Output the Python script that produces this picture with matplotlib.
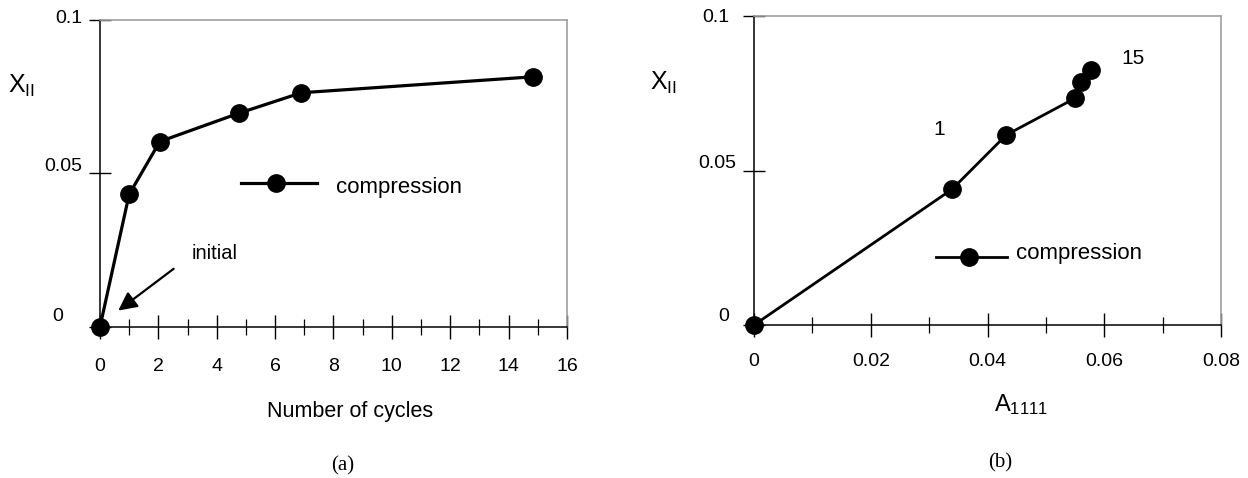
import matplotlib
matplotlib.use('Agg')
import matplotlib.pyplot as plt
import matplotlib.transforms as mtransforms
import numpy as np

plt.rcParams['font.family'] = ['Liberation Sans', 'DejaVu Sans']
plt.rcParams['mathtext.fontset'] = 'custom'
plt.rcParams['mathtext.rm'] = 'Liberation Sans'

# (a) X_II against number of cycles
cycles = [0, 1, 2.05, 4.75, 6.9, 14.85]
x_cycles = [0.0, 0.0432, 0.0604, 0.0696, 0.0763, 0.0815]

# (b) X_II against A_1111
a1111 = [0.0, 0.0339, 0.0432, 0.0550, 0.0560, 0.0577]
x_a = [0.0, 0.0439, 0.0615, 0.0734, 0.0785, 0.0825]

xticks_a = [0, 2, 4, 6, 8, 10, 12, 14, 16]
xticks_b = [0, 0.02, 0.04, 0.06, 0.08]
xtick_labels_b = ['0', '0.02', '0.04', '0.06', '0.08']
yticks = [0, 0.05, 0.1]
ytick_labels = ['0', '0.05', '0.1']

fig = plt.figure(figsize=(12.48, 4.78), dpi=100)
ax1 = fig.add_axes([0.0801, 0.3159, 0.3742, 0.6423])
ax2 = fig.add_axes([0.6042, 0.3201, 0.3742, 0.6464])


def style(ax, xmax, xticks, xlabels, minor_step, xpad, ylab_shift):
    ax.set_xlim(0, xmax)
    ax.set_ylim(0, 0.1)
    for s in ['top', 'right']:
        ax.spines[s].set_color('#a0a0a0')
        ax.spines[s].set_linewidth(1.2)
    for s in ['left', 'bottom']:
        ax.spines[s].set_color('black')
        ax.spines[s].set_linewidth(1.1)
    ax.set_xticks(xticks)
    ax.set_xticklabels(xlabels)
    ax.set_xticks(np.arange(minor_step, xmax, 2 * minor_step), minor=True)
    ax.set_yticks(yticks)
    ax.set_yticklabels(ytick_labels)
    ax.tick_params(axis='x', which='major', direction='inout', length=17,
                   width=1.0, labelsize=14, pad=xpad)
    ax.tick_params(axis='x', which='minor', direction='inout', length=12,
                   width=0.9)
    ax.tick_params(axis='y', which='major', direction='inout', length=16,
                   width=1.0, labelsize=14, pad=5)
    # y labels in the original sit slightly off their ticks
    for t, (dx, dy) in zip(ax.yaxis.get_major_ticks(), ylab_shift):
        off = mtransforms.ScaledTranslation(dx / 100, dy / 100,
                                            fig.dpi_scale_trans)
        t.label1.set_transform(t.label1.get_transform() + off)


# ---- panel (a)
ax1.plot(cycles, x_cycles, color='black', lw=2.3, marker='o', ms=12.5,
         clip_on=False, zorder=5)
style(ax1, 16, xticks_a, [str(v) for v in xticks_a], 1, 14,
      [(-19, 12), (0, 9), (0, 3)])
ax1.plot([4.83, 7.45], [0.0470, 0.0470], color='black', lw=2.3)
ax1.plot([6.03], [0.0470], color='black', marker='o', ms=12.5)
ax1.text(8.1, 0.0453, 'compression', fontsize=16, va='center', ha='left')
ax1.annotate('', xy=(0.55, 0.0048), xytext=(2.6, 0.0195),
             arrowprops=dict(arrowstyle='-|>', color='black', lw=1.6,
                             mutation_scale=28))
ax1.text(3.14, 0.0241, 'initial', fontsize=14.5, va='center', ha='left')
ax1.text(-2.69, 0.0785, r'$\mathregular{X_{II}}$', fontsize=18,
         ha='center', va='center')
fig.text(350 / 1248, 1 - 412 / 478, 'Number of cycles', fontsize=15.5,
         ha='center', va='center')
fig.text(343 / 1248, 1 - 466 / 478, '(a)', fontsize=15, ha='center',
         va='center', family='Liberation Serif')

# ---- panel (b)
ax2.plot(a1111, x_a, color='black', lw=2.0, marker='o', ms=12.5,
         clip_on=False, zorder=5)
style(ax2, 0.08, xticks_b, xtick_labels_b, 0.01, 12,
      [(-7, 10), (0, 9), (-7, 1)])
ax2.plot([0.0312, 0.0433], [0.0220, 0.0220], color='black', lw=2.0)
ax2.plot([0.0368], [0.0220], color='black', marker='o', ms=12.5)
ax2.text(0.0449, 0.0233, 'compression', fontsize=16, va='center', ha='left')
ax2.text(0.0317, 0.0634, '1', fontsize=15, ha='center', va='center')
ax2.text(0.0650, 0.0861, '15', fontsize=15, ha='center', va='center')
ax2.text(-0.0156, 0.0785, r'$\mathregular{X_{II}}$', fontsize=18,
         ha='center', va='center')
fig.text(1021 / 1248, 1 - 405 / 478, r'$\mathregular{A_{1111}}$',
         fontsize=17, ha='center', va='center')
fig.text(1000 / 1248, 1 - 463 / 478, '(b)', fontsize=15, ha='center',
         va='center', family='Liberation Serif')

fig.savefig('out.png', dpi=100)
